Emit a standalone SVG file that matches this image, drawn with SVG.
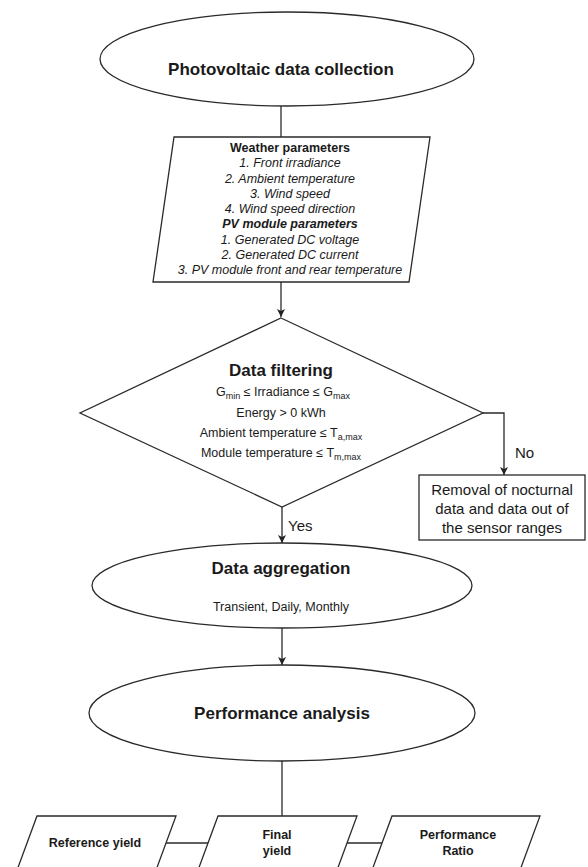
<svg xmlns="http://www.w3.org/2000/svg" width="588" height="867" viewBox="0 0 588 867">
<defs>
<marker id="arr" markerWidth="10" markerHeight="10" refX="9" refY="5" orient="auto" markerUnits="userSpaceOnUse">
<path d="M1,1 L9,5 L1,9 L3,5 Z" fill="#222"/>
</marker>
<style>
.s{fill:#fff;stroke:#2a2a2a;stroke-width:1.3}
.c{fill:none;stroke:#2a2a2a;stroke-width:1.3}
text{font-family:"Liberation Sans",Arial,sans-serif;fill:#1a1a1a;text-anchor:middle}
.t{font-size:17px;font-weight:bold}
.b{font-size:12.5px;font-weight:bold}
.i{font-size:12.5px;font-style:italic}
.r{font-size:12.5px}
.m{font-size:15px}
</style>
</defs>
<rect width="588" height="867" fill="#fff"/>
<g id="connectors">
<path class="c" d="M281,106 V137"/>
<path class="c" d="M281,282 V317" marker-end="url(#arr)"/>
<path class="c" d="M483,413 H504 V475" marker-end="url(#arr)"/>
<path class="c" d="M282,507 V543" marker-end="url(#arr)"/>
<path class="c" d="M282,628 V665" marker-end="url(#arr)"/>
<path class="c" d="M282,761 V816"/>
<path class="c" d="M166,843 H208"/>
<path class="c" d="M347,843 H382"/>
<text class="m" x="288" y="531" style="text-anchor:start">Yes</text>
<text class="m" x="515" y="458" style="text-anchor:start">No</text>
</g>
<g id="collection">
<ellipse class="s" cx="287" cy="59" rx="187" ry="47"/>
<text class="t" x="281" y="75">Photovoltaic data collection</text>
</g>
<g id="parameters">
<polygon class="s" points="174,137 430,137 409,282 153,282"/>
<text class="b" x="290" y="152">Weather parameters</text>
<text class="i" x="290" y="167.3">1. Front irradiance</text>
<text class="i" x="290" y="182.5">2. Ambient temperature</text>
<text class="i" x="290" y="197.8">3. Wind speed</text>
<text class="i" x="290" y="213">4. Wind speed direction</text>
<text class="b" x="290" y="228.3" style="font-style:italic">PV module parameters</text>
<text class="i" x="290" y="243.5">1. Generated DC voltage</text>
<text class="i" x="290" y="258.8">2. Generated DC current</text>
<text class="i" x="290" y="274">3. PV module front and rear temperature</text>
</g>
<g id="filtering">
<polygon class="s" points="281,318 483,413 282,507 80,413"/>
<text class="t" x="281" y="376">Data filtering</text>
<text class="r" x="283" y="396">G<tspan font-size="9" dy="3">min</tspan><tspan dy="-3"> ≤ Irradiance ≤ G</tspan><tspan font-size="9" dy="3">max</tspan></text>
<text class="r" x="281" y="417">Energy &gt; 0 kWh</text>
<text class="r" x="281" y="437">Ambient temperature ≤ T<tspan font-size="9" dy="3">a,max</tspan></text>
<text class="r" x="281" y="457">Module temperature ≤ T<tspan font-size="9" dy="3">m,max</tspan></text>
</g>
<g id="removal">
<rect class="s" x="419" y="475" width="166" height="65"/>
<text class="m" x="502" y="495">Removal of nocturnal</text>
<text class="m" x="502" y="514">data and data out of</text>
<text class="m" x="502" y="533">the sensor ranges</text>
</g>
<g id="aggregation">
<ellipse class="s" cx="282" cy="585.5" rx="190" ry="42.5"/>
<text class="t" x="281" y="574">Data aggregation</text>
<text class="r" x="281" y="611">Transient, Daily, Monthly</text>
</g>
<g id="analysis">
<ellipse class="s" cx="282" cy="713" rx="193" ry="48"/>
<text class="t" x="282" y="719">Performance analysis</text>
</g>
<g id="reference">
<polygon class="s" points="37,816 176,816 145,900 6,900"/>
<text class="b" x="95" y="847">Reference yield</text>
</g>
<g id="final">
<polygon class="s" points="218,816 357,816 326,900 187,900"/>
<text class="b" x="277" y="839">Final</text>
<text class="b" x="277" y="855">yield</text>
</g>
<g id="ratio">
<polygon class="s" points="392,816 540,816 509,900 361,900"/>
<text class="b" x="458" y="839">Performance</text>
<text class="b" x="458" y="855">Ratio</text>
</g>
</svg>
